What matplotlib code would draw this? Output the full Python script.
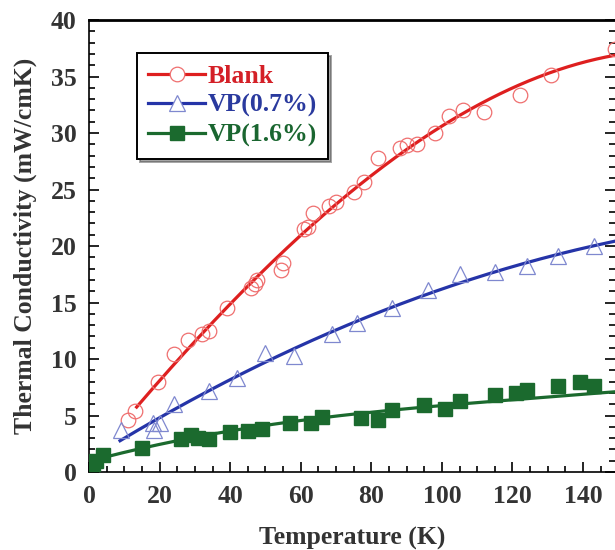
import matplotlib
matplotlib.use("Agg")
import matplotlib.pyplot as plt
import numpy as np
from matplotlib.ticker import MultipleLocator

# Blank (open circles)
blank_T = [11, 13, 19.5, 24, 28, 32, 34, 39, 46, 47, 47.5, 54.5, 55, 61, 62, 63.5,
           68, 70, 75, 78, 82, 88, 90, 93, 98, 102, 106, 112, 122, 131, 149]
blank_k = [4.6, 5.4, 8.0, 10.4, 11.7, 12.2, 12.5, 14.5, 16.3, 16.6, 17.0, 17.9, 18.5, 21.5, 21.7, 22.9,
           23.5, 23.9, 24.8, 25.7, 27.8, 28.7, 28.9, 29.0, 30.0, 31.5, 32.0, 31.9, 33.4, 35.1, 37.4]

# VP(0.7%) (open triangles)
vp07_T = [9, 18, 18.5, 20, 24, 34, 42, 50, 58, 69, 76, 86, 96, 105, 115, 124, 133, 143]
vp07_k = [3.7, 4.3, 3.7, 4.3, 6.0, 7.2, 8.3, 10.5, 10.3, 12.2, 13.2, 14.5, 16.1, 17.5, 17.7, 18.2, 19.1, 20.0]

# VP(1.6%) (filled squares)
vp16_T = [1, 2, 4, 15, 26, 29, 31, 34, 40, 45, 49, 57, 63, 66, 77, 82, 86, 95, 101, 105,
          115, 121, 124, 133, 139, 143]
vp16_k = [0.7, 1.0, 1.5, 2.1, 2.9, 3.3, 3.0, 2.9, 3.5, 3.6, 3.8, 4.3, 4.3, 4.9, 4.8, 4.6, 5.5, 5.9, 5.6, 6.3,
          6.8, 7.0, 7.3, 7.6, 8.0, 7.6]

# the 1.6% fit curve sits below the high-T points, so read it off the figure
vp16_fit_T = [0, 15, 36.5, 55.5, 75, 109, 149]
vp16_fit_k = [0.9, 2.2, 3.4, 4.3, 5.2, 6.1, 7.1]

labels = ["Blank", "VP(0.7%)", "VP(1.6%)"]
line_colors = ["#de1f1f", "#2534a8", "#1b6a2e"]
text_colors = ["#d42027", "#2a3a9e", "#1a6630"]

plt.rcParams['font.family'] = ['Liberation Serif', 'DejaVu Serif']
plt.rcParams['font.weight'] = 'bold'

fig = plt.figure(figsize=(6.15, 5.5), dpi=100)
ax = fig.add_axes([0.1447, 0.1418, 0.855, 0.8218])

# fitted curves
p = np.polyfit(blank_T, blank_k, 3)
tt = np.linspace(13.5, 150, 200)
ax.plot(tt, np.polyval(p, tt), color=line_colors[0], lw=2.3, zorder=2)

p = np.polyfit(vp07_T, vp07_k, 2)
tt = np.linspace(8.8, 150, 200)
ax.plot(tt, np.polyval(p, tt), color=line_colors[1], lw=2.3, zorder=2)

p = np.polyfit(vp16_fit_T, vp16_fit_k, 3)
tt = np.linspace(0, 150, 300)
ax.plot(tt, np.polyval(p, tt), color=line_colors[2], lw=2.3, zorder=2)

ax.plot(blank_T, blank_k, ls='none', marker='o', ms=10.5, mfc='none', mec='#ef6f6f', mew=0.9, zorder=3)
ax.plot(vp07_T, vp07_k, ls='none', marker='^', ms=11.5, mfc='none', mec='#7f88cf', mew=0.9, zorder=3)
ax.plot(vp16_T, vp16_k, ls='none', marker='s', ms=9.5, mfc='#1b6a2e', mec='#1b6a2e', zorder=3)

# legend handles
h1, = ax.plot([], [], color=line_colors[0], lw=2.3, marker='o', ms=10.5, mfc='white', mec='#ef6f6f', mew=0.9)
h2, = ax.plot([], [], color=line_colors[1], lw=2.3, marker='^', ms=11.5, mfc='white', mec='#7f88cf', mew=0.9)
h3, = ax.plot([], [], color=line_colors[2], lw=2.3, marker='s', ms=9.5, mfc='#1b6a2e', mec='#1b6a2e')
leg = ax.legend([h1, h2, h3], labels, loc='upper left', bbox_to_anchor=(0.091, 0.927),
                borderaxespad=0, fancybox=False, shadow=True, handlelength=2.2,
                handletextpad=0.1, labelspacing=0.25, borderpad=0.45,
                prop={'family': 'Liberation Serif', 'weight': 'bold', 'size': 18.5})
leg.get_frame().set_edgecolor('black')
leg.get_frame().set_linewidth(1.4)
for t, c in zip(leg.get_texts(), text_colors):
    t.set_color(c)

ax.set_xlim(0, 149)
ax.set_ylim(0, 40)
ax.xaxis.set_major_locator(MultipleLocator(20))
ax.xaxis.set_minor_locator(MultipleLocator(5))
ax.yaxis.set_major_locator(MultipleLocator(5))
ax.yaxis.set_minor_locator(MultipleLocator(1))
ax.tick_params(which='both', direction='in', right=True, top=False, labelsize=18.5, width=1.2)
ax.tick_params(which='major', length=7, pad=9)
ax.tick_params(which='minor', length=4)
ax.spines['right'].set_visible(False)
ax.spines['top'].set_linewidth(2)
ax.spines['left'].set_linewidth(1.2)
ax.spines['bottom'].set_linewidth(1.2)

ax.set_xlabel('Temperature (K)', fontsize=18.5, fontweight='bold', color='#333333', labelpad=14)
ax.set_ylabel('Thermal Conductivity (mW/cmK)', fontsize=18.5, fontweight='bold', color='#333333', labelpad=10)
for lbl in ax.get_xticklabels() + ax.get_yticklabels():
    lbl.set_color('#333333')

fig.savefig('out.png', dpi=100)
